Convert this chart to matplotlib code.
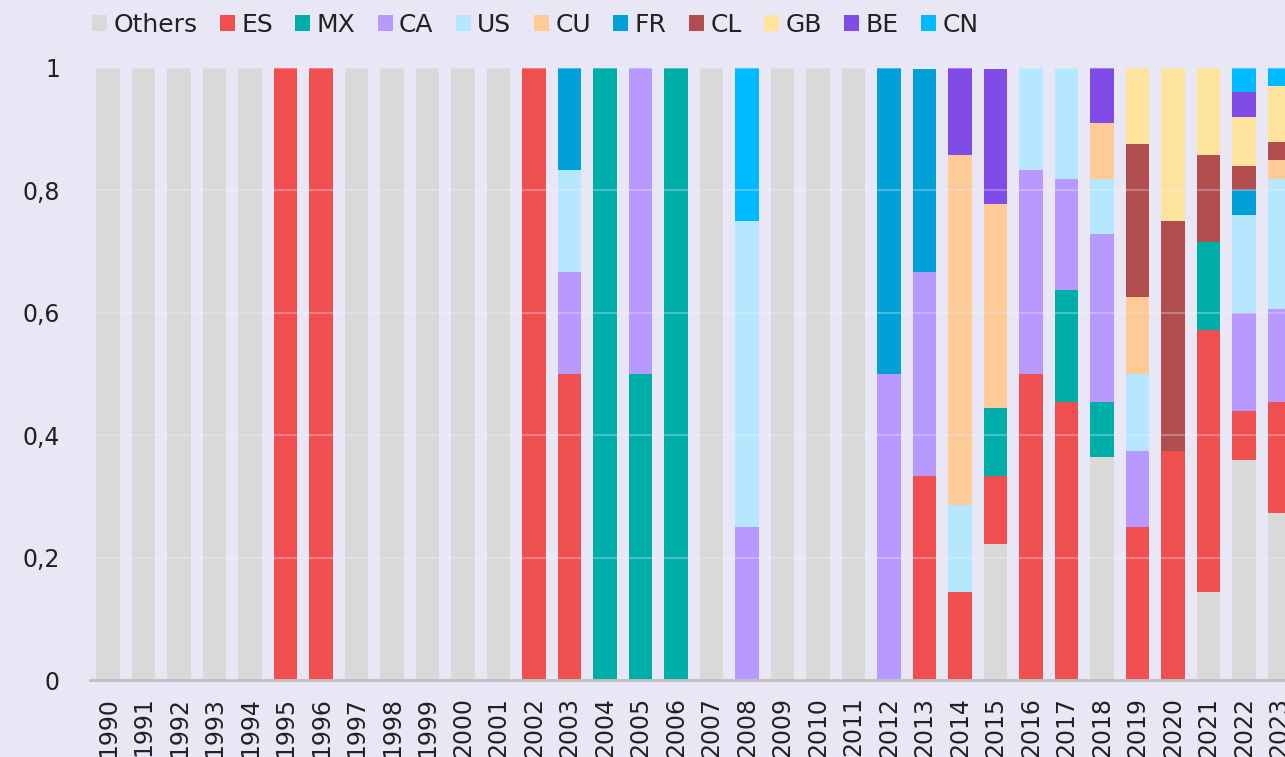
import numpy as np
import matplotlib
matplotlib.use('Agg')
import matplotlib.pyplot as plt
from matplotlib.patches import Patch
from matplotlib.ticker import FuncFormatter

years = [str(y) for y in range(1990, 2024)]

# share of each country per year (bottom to top)
others = [1, 1, 1, 1, 1, 0, 0, 1, 1, 1, 1, 1, 0, 0, 0, 0, 0, 1, 0, 1,
          1, 1, 0, 0, 0, 0.222, 0, 0, 0.364, 0, 0, 0.143, 0.36, 0.273]
es = [0, 0, 0, 0, 0, 1, 1, 0, 0, 0, 0, 0, 1, 0.5, 0, 0, 0, 0, 0, 0,
      0, 0, 0, 0.333, 0.143, 0.111, 0.5, 0.455, 0, 0.25, 0.375, 0.429, 0.08, 0.182]
mx = [0, 0, 0, 0, 0, 0, 0, 0, 0, 0, 0, 0, 0, 0, 1, 0.5, 1, 0, 0, 0,
      0, 0, 0, 0, 0, 0.111, 0, 0.182, 0.091, 0, 0, 0.143, 0, 0]
ca = [0, 0, 0, 0, 0, 0, 0, 0, 0, 0, 0, 0, 0, 0.167, 0, 0.5, 0, 0, 0.25, 0,
      0, 0, 0.5, 0.333, 0, 0, 0.333, 0.182, 0.273, 0.125, 0, 0, 0.16, 0.152]
us = [0, 0, 0, 0, 0, 0, 0, 0, 0, 0, 0, 0, 0, 0.167, 0, 0, 0, 0, 0.5, 0,
      0, 0, 0, 0, 0.143, 0, 0.167, 0.182, 0.091, 0.125, 0, 0, 0.16, 0.212]
cu = [0, 0, 0, 0, 0, 0, 0, 0, 0, 0, 0, 0, 0, 0, 0, 0, 0, 0, 0, 0,
      0, 0, 0, 0, 0.571, 0.333, 0, 0, 0.091, 0.125, 0, 0, 0, 0.03]
fr = [0, 0, 0, 0, 0, 0, 0, 0, 0, 0, 0, 0, 0, 0.167, 0, 0, 0, 0, 0, 0,
      0, 0, 0.5, 0.333, 0, 0, 0, 0, 0, 0, 0, 0, 0.04, 0]
cl = [0, 0, 0, 0, 0, 0, 0, 0, 0, 0, 0, 0, 0, 0, 0, 0, 0, 0, 0, 0,
      0, 0, 0, 0, 0, 0, 0, 0, 0, 0.25, 0.375, 0.143, 0.04, 0.03]
gb = [0, 0, 0, 0, 0, 0, 0, 0, 0, 0, 0, 0, 0, 0, 0, 0, 0, 0, 0, 0,
      0, 0, 0, 0, 0, 0, 0, 0, 0, 0.125, 0.25, 0.143, 0.08, 0.091]
be = [0, 0, 0, 0, 0, 0, 0, 0, 0, 0, 0, 0, 0, 0, 0, 0, 0, 0, 0, 0,
      0, 0, 0, 0, 0.143, 0.222, 0, 0, 0.091, 0, 0, 0, 0.04, 0]
cn = [0, 0, 0, 0, 0, 0, 0, 0, 0, 0, 0, 0, 0, 0, 0, 0, 0, 0, 0.25, 0,
      0, 0, 0, 0, 0, 0, 0, 0, 0, 0, 0, 0, 0.04, 0.03]

labels = ['Others', 'ES', 'MX', 'CA', 'US', 'CU', 'FR', 'CL', 'GB', 'BE', 'CN']
series = [others, es, mx, ca, us, cu, fr, cl, gb, be, cn]
colors = ['#D9D9D9', '#F04F4F', '#00AEA9', '#B899FD', '#B5E8FE', '#FECB96',
          '#00A1D8', '#B24D4E', '#FEE39D', '#804BE6', '#00BAFF']

bg = '#E9E7F6'
plt.rcParams['font.family'] = ['DejaVu Sans']

fig = plt.figure(figsize=(12.85, 7.57), dpi=100, facecolor=bg)
ax = fig.add_axes([0.0704, 0.1017, 0.939, 0.8085], facecolor=bg)

x = np.arange(len(years))
bottom = np.zeros(len(years))
for vals, col in zip(series, colors):
    vals = np.array(vals, dtype=float)
    ax.bar(x, vals, width=0.66, bottom=bottom, color=col, zorder=2, linewidth=0)
    bottom += vals

ax.set_xlim(-0.5, len(years) - 0.5)
ax.set_ylim(0, 1)
ax.set_yticks([0, 0.2, 0.4, 0.6, 0.8, 1])
ax.yaxis.set_major_formatter(FuncFormatter(lambda v, p: ('%g' % v).replace('.', ',')))
ax.set_xticks(x)
ax.set_xticklabels(years, rotation=90)

ax.grid(axis='y', color='#F4EEFF', linewidth=1.5, alpha=0.3, zorder=3)
ax.set_axisbelow(False)
for s in ['top', 'right', 'left']:
    ax.spines[s].set_visible(False)
ax.spines['bottom'].set_color('#BFBFBF')
ax.spines['bottom'].set_linewidth(2)
ax.spines['bottom'].set_zorder(4)
ax.tick_params(axis='both', length=0, labelsize=17, labelcolor='#222222')
ax.tick_params(axis='y', pad=22)
ax.tick_params(axis='x', pad=12)

handles = [Patch(facecolor=c, edgecolor='none') for c in colors]
fig.legend(handles, labels, loc='center left', bbox_to_anchor=(0.0715, 0.967),
           ncol=len(labels), frameon=False, fontsize=18, handlelength=0.6,
           handleheight=0.6, handletextpad=0.25, columnspacing=0.9,
           borderpad=0, borderaxespad=0, labelcolor='#222222')

fig.savefig('out.png', dpi=100, facecolor=bg)
